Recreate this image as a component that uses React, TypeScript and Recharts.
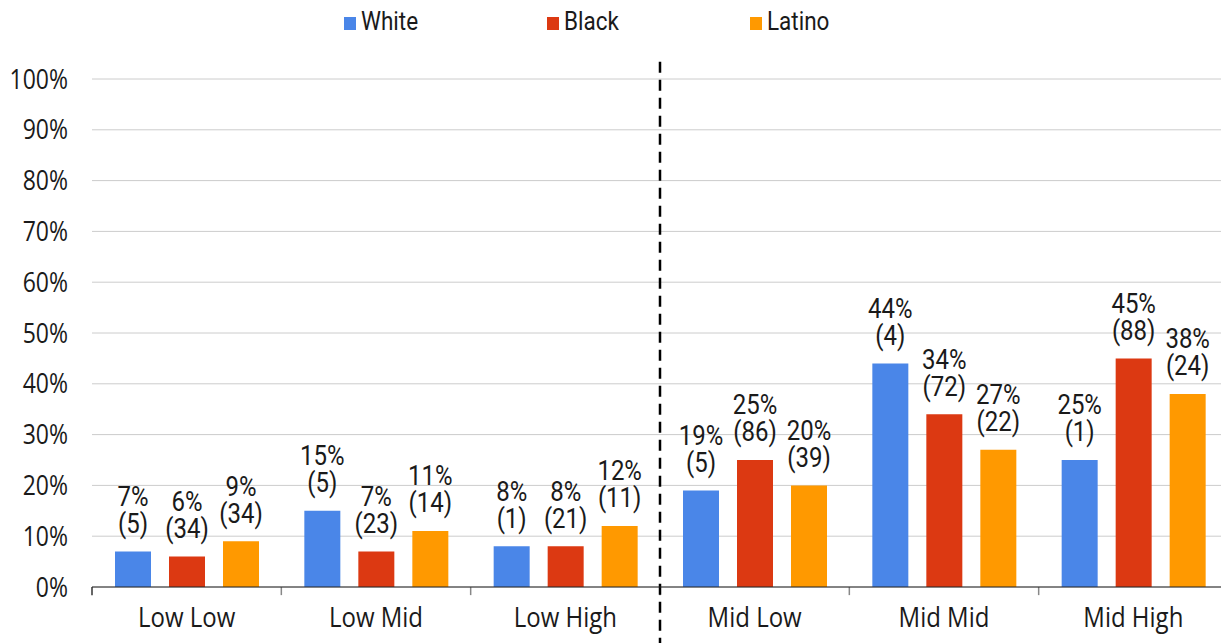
import { Bar, BarChart, CartesianGrid, LabelList, Legend, ReferenceLine, XAxis, YAxis } from 'recharts';

const categories = ['Low Low', 'Low Mid', 'Low High', 'Mid Low', 'Mid Mid', 'Mid High'];
const whitePct = [7, 15, 8, 19, 44, 25];
const blackPct = [6, 7, 8, 25, 34, 45];
const latinoPct = [9, 11, 12, 20, 27, 38];
const whiteN = [5, 5, 1, 5, 4, 1];
const blackN = [34, 23, 21, 86, 72, 88];
const latinoN = [34, 14, 11, 39, 22, 24];
const yTicks = [0, 10, 20, 30, 40, 50, 60, 70, 80, 90, 100];

const series = [
  { key: 'white', name: 'White', color: '#4a86e8', pct: whitePct, n: whiteN },
  { key: 'black', name: 'Black', color: '#dc3912', pct: blackPct, n: blackN },
  { key: 'latino', name: 'Latino', color: '#ff9900', pct: latinoPct, n: latinoN },
];

const data = categories.map((c, i) => ({
  cat: c,
  white: whitePct[i],
  black: blackPct[i],
  latino: latinoPct[i],
}));

// text in the reference is a bit taller than wide
const STRETCH = 1.17;
const TEXT = '#1a1a1a';

function YTick({ x, y, payload }: any) {
  return (
    <g transform={`translate(${x - 24},${y}) scale(1,${STRETCH})`}>
      <text textAnchor="end" dy="0.36em" fontFamily="Open Sans" fontSize={23} fill={TEXT}>
        {payload.value}%
      </text>
    </g>
  );
}

function XTick({ x, y, payload }: any) {
  return (
    <g transform={`translate(${x},${y + 40}) scale(1,${STRETCH})`}>
      <text textAnchor="middle" fontFamily="Open Sans" fontSize={24} fill={TEXT}>
        {payload.value}
      </text>
    </g>
  );
}

function makeLabel(n: number[]) {
  return (props: any) => {
    const { x, y, width, value, index } = props;
    const cx = Number(x) + Number(width) / 2;
    return (
      <g transform={`translate(${cx},${y}) scale(1,${STRETCH})`}>
        <text textAnchor="middle" fontFamily="Roboto" fontSize={24} fill={TEXT}>
          <tspan x={0} y={-39}>{value}%</tspan>
          <tspan x={0} y={-16}>({n[index]})</tspan>
        </text>
      </g>
    );
  };
}

function renderLegend() {
  return (
    <div style={{ position: 'relative', width: 1221, height: 40 }}>
      {series.map((s, i) => (
        <div
          key={s.key}
          style={{ position: 'absolute', left: 344 + i * 203, top: 15, display: 'flex', alignItems: 'flex-end' }}
        >
          <span style={{ width: 12, height: 13, background: s.color, display: 'inline-block' }} />
          <span
            style={{
              marginLeft: 5,
              fontFamily: 'Roboto',
              fontSize: 22.5,
              lineHeight: '15px',
              color: TEXT,
              display: 'inline-block',
              transform: `scaleY(${STRETCH})`,
              transformOrigin: 'bottom',
            }}
          >
            {s.name}
          </span>
        </div>
      ))}
    </div>
  );
}

export default function App() {
  return (
    <div style={{ position: 'absolute', left: 0, top: 0, width: 1221, height: 643, overflow: 'hidden', background: '#fff' }}>
      <BarChart width={1228} height={643} data={data} margin={{ top: 79, right: 0, left: 0, bottom: 0 }} barSize={36} barGap={18}>
        <CartesianGrid horizontal vertical={false} stroke="#cccccc" />
        <XAxis
          dataKey="cat"
          height={56}
          tickLine={false}
          tickSize={0}
          tickMargin={0}
          axisLine={{ stroke: '#222', strokeWidth: 1.2 }}
          tick={<XTick />}
          interval={0}
        />
        <YAxis
          width={92}
          domain={[0, 100]}
          ticks={yTicks}
          axisLine={false}
          tickLine={false}
          tickSize={0}
          tickMargin={0}
          tick={<YTick />}
          interval={0}
        />
        <Legend verticalAlign="middle" content={renderLegend} wrapperStyle={{ top: 0, left: 0, width: 1221 }} />
        {series.map((s) => (
          <Bar key={s.key} dataKey={s.key} name={s.name} fill={s.color} isAnimationActive={false}>
            <LabelList dataKey={s.key} content={makeLabel(s.n)} />
          </Bar>
        ))}
        {categories.map((c, i) => (
          <ReferenceLine
            key={c}
            position="start"
            segment={[{ x: c, y: 0 }, { x: c, y: -1.6 }]}
            stroke={i === 0 ? '#333' : '#888'}
            strokeWidth={1.5}
            ifOverflow="visible"
          />
        ))}
        <ReferenceLine
          position="end"
          segment={[{ x: 'Low High', y: 103.4 }, { x: 'Low High', y: -12 }]}
          stroke="#000"
          strokeWidth={2.5}
          strokeDasharray="11 7"
          ifOverflow="visible"
        />
      </BarChart>
    </div>
  );
}
